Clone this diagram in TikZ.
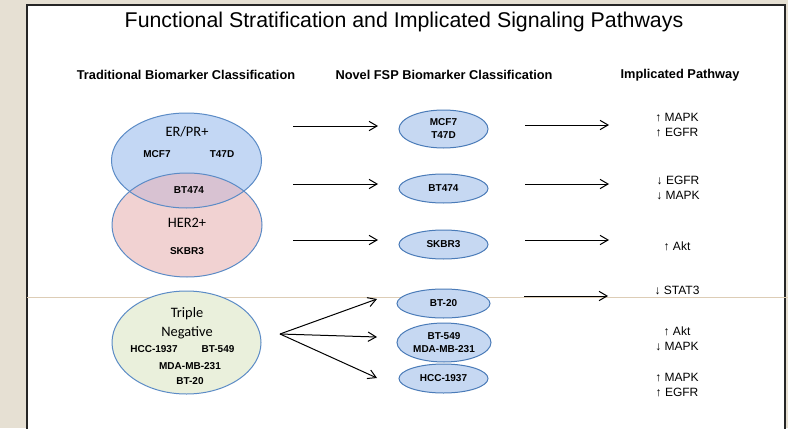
\documentclass[tikz,border=0pt]{standalone}
\usepackage{fontspec}
\setmainfont{Liberation Sans}
\newfontfamily\calib{Carlito}
\usetikzlibrary{shapes.geometric,arrows.meta}
\definecolor{bg}{HTML}{E6E0D3}
\definecolor{erblue}{HTML}{C3D7F4}
\definecolor{herpink}{HTML}{F1D2D2}
\definecolor{overlap}{HTML}{D8C2D2}
\definecolor{tngreen}{HTML}{EAF0DC}
\definecolor{edgeblue}{HTML}{5B8BC6}
\definecolor{midfill}{HTML}{C6D8F2}
\definecolor{midedge}{HTML}{4A7BB8}
\definecolor{tanline}{HTML}{DDCDB6}
\tikzset{
  conn/.style={-{Straight Barb[length=6pt,width=7pt]}, line width=0.75pt, black},
  cell/.style={font=\bfseries\fontsize{7.5}{9.75}\selectfont, inner sep=0pt, align=center},
  grp/.style={font=\calib\fontsize{10.8}{14.25}\selectfont, inner sep=0pt, align=center},
  hdr/.style={font=\bfseries\fontsize{9.6}{11}\selectfont, inner sep=0pt},
  path/.style={font=\fontsize{9}{11.25}\selectfont, inner sep=0pt, align=center},
  midell/.style={ellipse, draw=midedge, fill=midfill, line width=0.75pt, inner sep=0pt,
    minimum width=66.75pt, minimum height=21.75pt, font=\bfseries\fontsize{7.5}{9.75}\selectfont, align=center}
}
\begin{document}
\begin{tikzpicture}[x=0.75pt,y=-0.75pt]
\useasboundingbox (0,0) rectangle (788,428);
\fill[bg] (0,0) rectangle (788,428);
\filldraw[fill=white, draw=black!85, line width=1.5pt] (27,5) rectangle (785,440);

% title and headers
\node[font=\fontsize{16}{19}\selectfont, inner sep=0pt] (title) at (404,22) {Functional Stratification and Implicated Signaling Pathways};
\node[hdr] (h1) at (186,75) {Traditional Biomarker Classification};
\node[hdr] (h2) at (444,75) {Novel FSP Biomarker Classification};
\node[hdr] (h3) at (680,75) {Implicated Pathway};

% Venn of ER/PR+ and HER2+
\node[ellipse, inner sep=0pt, minimum width=112.5pt, minimum height=71.25pt] (er) at (186.5,160.5) {};
\node[ellipse, inner sep=0pt, minimum width=112.5pt, minimum height=78pt] (her) at (187,225) {};
\fill[herpink] (187,225) ellipse [x radius=75, y radius=52];
\fill[erblue] (186.5,160.5) ellipse [x radius=75, y radius=47.5];
\begin{scope}
  \clip (187,225) ellipse [x radius=75, y radius=52];
  \fill[overlap] (186.5,160.5) ellipse [x radius=75, y radius=47.5];
\end{scope}
\draw[edgeblue, line width=0.75pt] (187,225) ellipse [x radius=75, y radius=52];
\draw[edgeblue, line width=0.75pt] (186.5,160.5) ellipse [x radius=75, y radius=47.5];

\node[grp] (erl) at (187,132) {ER/PR+};
\node[cell] (mcf) at (157,154) {MCF7};
\node[cell] (t47) at (222,154) {T47D};
\node[cell] (bt474) at (189,190) {BT474};
\node[grp] (herl) at (187,223) {HER2+};
\node[cell] (skbr) at (187,251) {SKBR3};

% faint horizontal line
\draw[tanline, line width=0.6pt] (27,297) -- (788,297);

% Triple negative
\node[ellipse, draw=edgeblue, fill=tngreen, line width=0.75pt, inner sep=0pt,
  minimum width=111.75pt, minimum height=77.25pt] (tn) at (186.5,342.5) {};
\node[grp] (tnl) at (187,323.5) {Triple\\Negative};
\node[cell] (hcc) at (154,349) {HCC-1937};
\node[cell] (bt549) at (218,349) {BT-549};
\node[cell] (mda) at (190,366) {MDA-MB-231};
\node[cell] (bt20) at (190,381) {BT-20};

% middle column
\node[midell, minimum height=28.5pt] (m1) at (443.5,129) {MCF7\\T47D};
\node[midell] (m2) at (443.5,188.5) {BT474};
\node[midell] (m3) at (443.5,244.5) {SKBR3};
\node[midell, minimum width=69.75pt] (m4) at (443.5,303.5) {BT-20};
\node[midell, minimum width=70.5pt, minimum height=29.25pt] (m5) at (444,342.5) {BT-549\\MDA-MB-231};
\node[midell] (m6) at (443.5,378.5) {HCC-1937};

% pathway column
\node[path] (p1) at (677,125.5) {↑ MAPK\\↑ EGFR};
\node[path] (p2) at (678,187.5) {↓ EGFR\\↓ MAPK};
\node[path] (p3) at (677,246) {↑ Akt};
\node[path] (p4) at (677,290) {↓ STAT3};
\node[path] (p5) at (677,338.5) {↑ Akt\\↓ MAPK};
\node[path] (p6) at (677,385.5) {↑ MAPK\\↑ EGFR};

% connector end points
\coordinate (a1s) at (293,126); \coordinate (a1e) at (378,126);
\coordinate (a2s) at (293,184); \coordinate (a2e) at (378,184);
\coordinate (a3s) at (293,240); \coordinate (a3e) at (378,240);
\coordinate (tns) at (280,334);
\coordinate (t1e) at (377,299);
\coordinate (t2e) at (377,337);
\coordinate (t3e) at (377,378);
\coordinate (b1s) at (525,125); \coordinate (b1e) at (609,125);
\coordinate (b2s) at (525,184); \coordinate (b2e) at (609,184);
\coordinate (b3s) at (525,240); \coordinate (b3e) at (609,240);
\coordinate (b4s) at (524,296); \coordinate (b4e) at (608,296);

\draw[conn] (a1s) -- (a1e);
\draw[conn] (a2s) -- (a2e);
\draw[conn] (a3s) -- (a3e);
\draw[conn] (tns) -- (t1e);
\draw[conn] (tns) -- (t2e);
\draw[conn] (tns) -- (t3e);
\draw[conn] (b1s) -- (b1e);
\draw[conn] (b2s) -- (b2e);
\draw[conn] (b3s) -- (b3e);
\draw[conn] (b4s) -- (b4e);
\end{tikzpicture}
\end{document}
